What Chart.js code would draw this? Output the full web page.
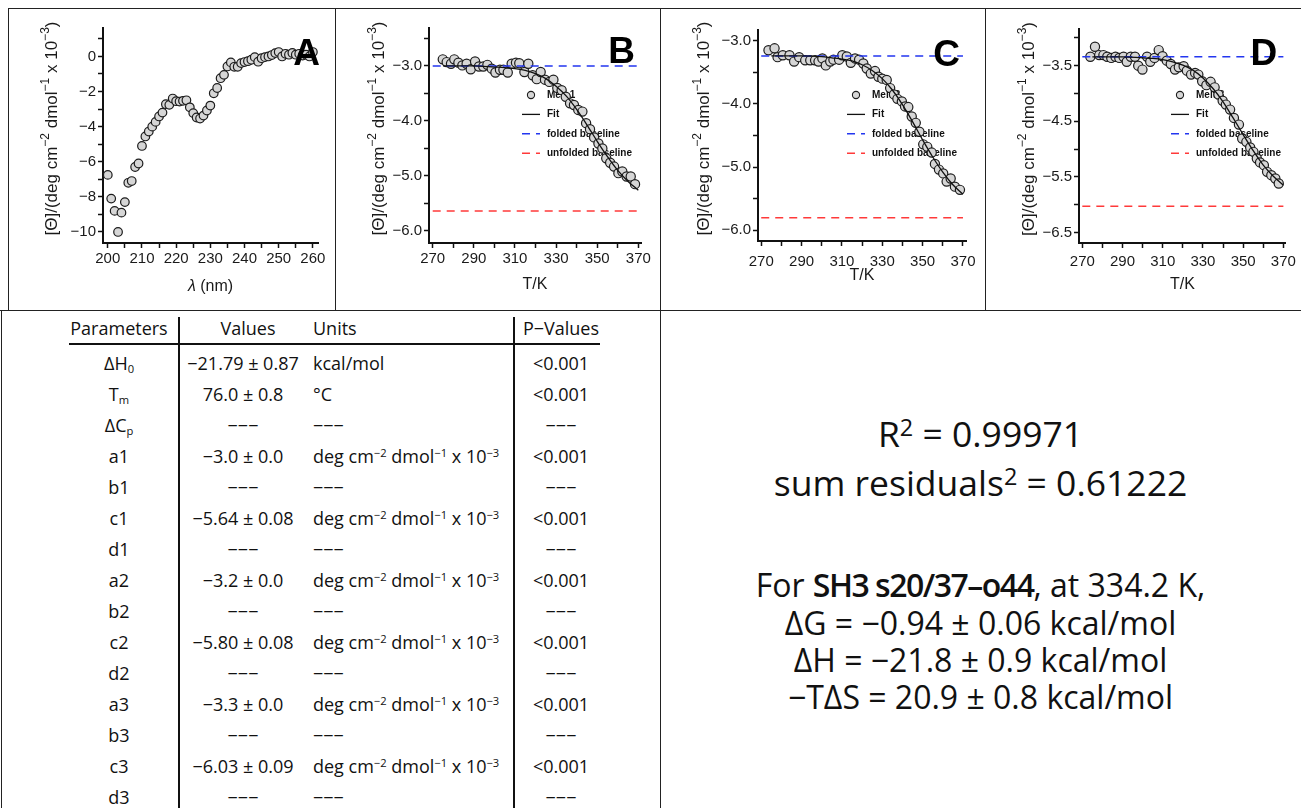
<!DOCTYPE html>
<html>
<head>
<meta charset="utf-8">
<script src="https://cdn.jsdelivr.net/npm/chart.js@4.4.1/dist/chart.umd.min.js"></script>
<style>
  body { margin: 0; background: #fff; width: 1301px; height: 808px; overflow: hidden; position: relative; font-family: "Open Sans", sans-serif; color: #111; }
  canvas { position: absolute; top: 9px; }
  .ln { position: absolute; background: #222; z-index: 5; }
  .cell { position: absolute; height: 26px; line-height: 26px; font-size: 18px; white-space: nowrap; color: #111; }
  .c { text-align: center; }
  sup, sub { font-size: 0.62em; line-height: 0; position: relative; vertical-align: baseline; color: inherit; }
  sup { top: -0.5em; }
  sub { top: 0.3em; }
  .txt { position: absolute; left: 660px; width: 641px; text-align: center; font-size: 32px; height: 46px; line-height: 46px; white-space: nowrap; }
  .txt.big { font-size: 35.5px; }
  .txt sup { font-size: 0.66em; top: -0.45em; }
  .txt b { font-weight: 600; letter-spacing: -1.5px; }
</style>
</head>
<body>
<canvas id="chartA" width="326" height="302" style="left:9px"></canvas>
<canvas id="chartB" width="324" height="302" style="left:336px"></canvas>
<canvas id="chartC" width="324" height="302" style="left:661px"></canvas>
<canvas id="chartD" width="315" height="302" style="left:986px"></canvas>

<div class="ln" style="left:8px;top:8px;width:1293px;height:1px"></div>
<div class="ln" style="left:8px;top:8px;width:1px;height:303px"></div>
<div class="ln" style="left:335px;top:8px;width:1px;height:303px"></div>
<div class="ln" style="left:660px;top:8px;width:1px;height:800px"></div>
<div class="ln" style="left:985px;top:8px;width:1px;height:303px"></div>
<div class="ln" style="left:0px;top:310px;width:1301px;height:1px"></div>
<div class="ln" style="left:1px;top:310px;width:1px;height:498px"></div>

<div id="table"></div>

<div class="txt big" style="top:410px">R<sup>2</sup> = 0.99971</div>
<div class="txt big" style="top:459px">sum residuals<sup>2</sup> = 0.61222</div>
<div class="txt" style="top:562px">For <b>SH3 s20/37–o44</b>, at 334.2 K,</div>
<div class="txt" style="top:600px">ΔG = −0.94 ± 0.06 kcal/mol</div>
<div class="txt" style="top:637px">ΔH = −21.8 ± 0.9 kcal/mol</div>
<div class="txt" style="top:674px">−TΔS = 20.9 ± 0.8 kcal/mol</div>

<script>
// panel A: CD spectrum
const lambdaA = [200,201,202,203,204,205,206,207,208,209,210,211,212,213,214,215,216,217,218,219,220,
  221,222,223,224,225,226,227,228,229,230,231,232,233,234,235,236,237,238,239,240,
  241,242,243,244,245,246,247,248,249,250,251,252,253,254,255,256,257,258,259,260];
const thetaA = [-6.75,-8.1,-8.8,-10.0,-8.9,-8.3,-7.2,-7.1,-6.3,-6.1,-5.1,-4.56,-4.28,-4.0,-3.73,-3.42,-3.2,-2.72,-2.76,-2.4,-2.55,
  -2.57,-2.53,-2.5,-2.9,-3.23,-3.48,-3.54,-3.37,-3.08,-2.8,-2.1,-1.8,-1.24,-1.05,-0.57,-0.34,-0.59,-0.59,-0.38,-0.32,
  -0.27,-0.19,-0.04,-0.3,-0.1,-0.04,0.0,0.08,0.19,0.25,0.0,0.15,0.1,0.2,0.1,0.15,0.05,0.1,0.0,0.25];

// melts
const tempB = [274.9,276.8,278.9,280.5,282.5,284.4,286.5,288.5,290.6,292.5,294.6,296.6,298.7,300.5,302.7,304.4,
  306.5,308.4,310.5,312.1,314.6,316.5,318.6,320.6,322.5,324.6,326.7,328.7,330.6,332.7,334.7,336.8,
  338.7,340.8,342.8,344.6,346.5,348.5,350.6,352.5,354.4,356.3,358.2,360.3,362.2,364.3,366.3,368.4];
const meltB = [-2.88,-2.93,-2.96,-2.88,-2.94,-2.99,-2.96,-3.06,-2.92,-3.01,-3.01,-2.98,-3.05,-3.12,-3.07,-3.07,
  -3.12,-2.96,-2.94,-2.95,-3.11,-2.96,-3.17,-3.24,-3.11,-3.25,-3.29,-3.25,-3.4,-3.44,-3.56,-3.68,
  -3.71,-3.8,-3.83,-4.04,-4.15,-4.3,-4.41,-4.5,-4.68,-4.76,-4.83,-4.95,-4.92,-5.01,-5.01,-5.15];

const tempC = [273.6,276.6,278.1,280.7,284,286.3,288.8,291.8,294.3,296.7,298.4,300.3,302,304.2,305.8,308.6,
  310.2,312.4,314.4,316.5,318.5,320.6,322.3,324.3,326.4,328.1,330,332.2,333.9,335.8,337.5,339.7,
  341.3,342.9,344.6,346.6,348.4,350.3,352.3,354.5,356.1,358.1,360.2,361.9,363.9,366,368.5];
const meltC = [-3.15,-3.12,-3.26,-3.23,-3.23,-3.33,-3.26,-3.31,-3.31,-3.31,-3.33,-3.28,-3.39,-3.33,-3.3,-3.3,
  -3.23,-3.25,-3.35,-3.28,-3.3,-3.36,-3.44,-3.52,-3.48,-3.57,-3.6,-3.62,-3.75,-3.85,-3.92,-3.96,
  -4.04,-4.05,-4.2,-4.3,-4.44,-4.64,-4.68,-4.77,-4.95,-5.04,-5.1,-5.23,-5.18,-5.31,-5.36];

const tempD = [274,276.3,278.4,280.5,282.4,284.4,286.5,288.4,290.5,292.1,294.1,296.2,297.8,299.9,302.2,303.8,
  305.9,308,309.9,312,314,316.1,318,320.4,322,324.1,326.1,327.7,329.6,331.7,333.8,335.8,
  337.7,339.8,341.4,343.5,345.4,347.9,349.5,351.6,353.5,355.1,356.8,358.4,360.3,361.9,364,366,367.7];
const meltD = [-3.34,-3.16,-3.31,-3.31,-3.34,-3.36,-3.34,-3.36,-3.34,-3.43,-3.34,-3.34,-3.5,-3.57,-3.34,-3.43,
  -3.36,-3.22,-3.33,-3.41,-3.47,-3.57,-3.53,-3.51,-3.59,-3.66,-3.63,-3.66,-3.78,-3.85,-3.79,-3.89,
  -4.02,-4.13,-4.2,-4.29,-4.44,-4.56,-4.81,-4.87,-4.97,-5.05,-5.17,-5.24,-5.29,-5.41,-5.47,-5.53,-5.62];

// fit curves
const fitTemp = [275,290,300,305,310,315,320,325,330,335,340,345,350,355,360,365,370];
const fitB = [-3.00,-3.00,-3.02,-3.03,-3.05,-3.08,-3.14,-3.23,-3.37,-3.55,-3.79,-4.07,-4.37,-4.65,-4.90,-5.10,-5.26];
const fitC = [-3.24,-3.24,-3.25,-3.27,-3.29,-3.32,-3.38,-3.47,-3.60,-3.78,-4.01,-4.28,-4.57,-4.84,-5.08,-5.28,-5.43];
const fitD = [-3.34,-3.34,-3.36,-3.37,-3.39,-3.43,-3.49,-3.58,-3.72,-3.91,-4.15,-4.44,-4.74,-5.03,-5.29,-5.49,-5.65];

const baseRange = [270, 370];
const foldedBase = [-3.0, -3.24, -3.34];
const unfoldedBase = [-5.64, -5.80, -6.03];

// ticks (all marks) and the ones that carry a label
const xTicksA = [200,205,210,215,220,225,230,235,240,245,250,255,260];
const xLabelsA = [200,210,220,230,240,250,260];
const yTicksA = [1,0,-1,-2,-3,-4,-5,-6,-7,-8,-9,-10];
const yLabelsA = [0,-2,-4,-6,-8,-10];
const xTicksT = [270,280,290,300,310,320,330,340,350,360,370];
const xLabelsT = [270,290,310,330,350,370];
const yTicksB = [-2.5,-3,-3.5,-4,-4.5,-5,-5.5,-6];
const yTicksC = [-3,-3.5,-4,-4.5,-5,-5.5,-6];
const yLabelsBC = [-3,-4,-5,-6];
const yTicksD = [-3,-3.5,-4,-4.5,-5,-5.5,-6,-6.5];
const yLabelsD = [-3.5,-4.5,-5.5,-6.5];

// table
const paramNames = ['ΔH<sub>0</sub>','T<sub>m</sub>','ΔC<sub>p</sub>','a1','b1','c1','d1','a2','b2','c2','d2','a3','b3','c3','d3'];
const paramValues = ['−21.79 ± 0.87','76.0 ± 0.8','−−−','−3.0 ± 0.0','−−−','−5.64 ± 0.08','−−−','−3.2 ± 0.0','−−−',
  '−5.80 ± 0.08','−−−','−3.3 ± 0.0','−−−','−6.03 ± 0.09','−−−'];
const U = 'deg cm<sup>−2</sup> dmol<sup>−1</sup> x 10<sup>−3</sup>';
const paramUnits = ['kcal/mol','°C','−−−',U,'−−−',U,'−−−',U,'−−−',U,'−−−',U,'−−−',U,'−−−'];
const pValues = ['<0.001','<0.001','−−−','<0.001','−−−','<0.001','−−−','<0.001','−−−','<0.001','−−−','<0.001','−−−','<0.001','−−−'];

const tbl = document.getElementById('table');
function cell(html, left, width, cy, cls) {
  const d = document.createElement('div');
  d.className = 'cell ' + (cls || '');
  d.style.left = left + 'px';
  if (width) d.style.width = width + 'px';
  d.style.top = (cy - 13) + 'px';
  d.innerHTML = html;
  tbl.appendChild(d);
}
cell('Parameters', 59, 120, 328, 'c');
cell('Values', 188, 120, 328, 'c');
cell('Units', 313, 0, 328);
cell('P−Values', 516, 90, 328, 'c');
paramNames.forEach((p, i) => {
  const cy = 363 + i * 31;
  cell(p, 59, 120, cy, 'c');
  cell(paramValues[i], 183, 120, cy, 'c');
  cell(paramUnits[i], 313, 0, cy);
  cell(pValues[i].replace('<', '&lt;'), 516, 90, cy, 'c');
});
tbl.insertAdjacentHTML('beforeend',
  '<div class="ln" style="left:69px;top:343px;width:531px;height:1.5px;background:#111"></div>' +
  '<div class="ln" style="left:178px;top:317px;width:1.5px;height:491px;background:#111"></div>' +
  '<div class="ln" style="left:513px;top:317px;width:1.5px;height:491px;background:#111"></div>');

// charts
const axisFamily = "'Liberation Sans', Arial, sans-serif";
const tickFont = { family: axisFamily, size: 15 };
const titleFont = { family: axisFamily, size: 16 };
const pts = (xs, ys) => xs.map((x, i) => ({ x: x, y: ys[i] }));
const fmt = (v, dec) => v.toFixed(dec).replace('-', '−');

// y title with real superscripts: [Θ]/(deg cm-2 dmol-1 x 10-3)
const yTitleParts = [['[Θ]/(deg cm', 0], ['−2', 1], [' dmol', 0], ['−1', 1], [' x 10', 0], ['−3', 1], [')', 0]];

function drawParts(ctx, parts, cx, cy, big, small, rotate) {
  ctx.save();
  ctx.translate(cx, cy);
  if (rotate) ctx.rotate(-Math.PI / 2);
  ctx.fillStyle = '#1a1a1a';
  ctx.textBaseline = 'alphabetic';
  let w = 0;
  parts.forEach(p => { ctx.font = p[2] || ((p[1] ? small : big) + 'px ' + axisFamily); w += ctx.measureText(p[0]).width; });
  let x = -w / 2;
  parts.forEach(p => {
    ctx.font = p[2] || ((p[1] ? small : big) + 'px ' + axisFamily);
    ctx.fillText(p[0], x, p[1] ? -big * 0.05 - small * 0.55 + big * 0.36 : big * 0.36);
    x += ctx.measureText(p[0]).width;
  });
  ctx.restore();
}

const panelDecor = {
  id: 'panelDecor',
  beforeDatasetsDraw(chart, args, o) {
    if (!o.legend) return;
    const { ctx, chartArea: a } = chart;
    ctx.save();
    ctx.font = 'bold 10px ' + axisFamily;
    ctx.textBaseline = 'middle';
    chart.data.datasets.forEach((ds, i) => {
      const y = a.top + o.legendTop + i * 19.4;
      const x = a.left + o.legendLeft;
      if (ds.showLine === false) {
        ctx.beginPath();
        ctx.arc(x + 9, y, 3.6, 0, Math.PI * 2);
        ctx.fillStyle = ds.pointBackgroundColor;
        ctx.fill();
        ctx.lineWidth = 1.1;
        ctx.strokeStyle = ds.pointBorderColor;
        ctx.stroke();
      } else {
        ctx.beginPath();
        ctx.setLineDash(ds.borderDash || []);
        ctx.moveTo(x, y);
        ctx.lineTo(x + 18, y);
        ctx.lineWidth = ds.borderWidth;
        ctx.strokeStyle = ds.borderColor;
        ctx.stroke();
        ctx.setLineDash([]);
      }
      ctx.fillStyle = '#111';
      ctx.fillText(ds.label, x + 25, y);
    });
    ctx.restore();
  },
  afterDatasetsDraw(chart, args, o) {
    const { ctx, chartArea: a } = chart;
    ctx.save();
    ctx.font = 'bold 37px ' + axisFamily;
    ctx.fillStyle = '#000';
    ctx.textAlign = 'right';
    ctx.textBaseline = 'alphabetic';
    ctx.fillText(o.letter, a.right + o.letterDx, a.top + o.letterDy);
    ctx.restore();
  },
  afterDraw(chart, args, o) {
    const { ctx, chartArea: a } = chart;
    drawParts(ctx, yTitleParts, 41.5, (a.top + a.bottom) / 2 - 7, 17, 12, true);
    if (o.xTitleParts) drawParts(ctx, o.xTitleParts, (a.left + a.right) / 2, 276, 16, 16, false);
  }
};

function meltSets(label, temps, melt, fit, k) {
  return [
    { label: label, data: pts(temps, melt), showLine: false, pointRadius: 4.6,
      pointBackgroundColor: '#d6d6d6', pointBorderColor: '#1c1c1c', pointBorderWidth: 1.2, order: 3 },
    { label: 'Fit', data: pts(fitTemp, fit), borderColor: '#111', borderWidth: 1.3, pointRadius: 0,
      cubicInterpolationMode: 'monotone', order: 0 },
    { label: 'folded baseline', data: pts(baseRange, [foldedBase[k], foldedBase[k]]), borderColor: '#2336f0',
      borderWidth: 1.5, borderDash: [8, 6], pointRadius: 0, order: 1 },
    { label: 'unfolded baseline', data: pts(baseRange, [unfoldedBase[k], unfoldedBase[k]]), borderColor: '#ff3a3a',
      borderWidth: 1.5, borderDash: [8, 6], pointRadius: 0, order: 2 }
  ];
}

function axis(c, which) {
  const isX = which === 'x';
  const t = isX ? c.x : c.y;
  return {
    type: 'linear',
    min: t.min, max: t.max,
    afterFit: s => { if (isX) s.height = c.xh; else s.width = c.yw; },
    afterBuildTicks: s => { s.ticks = t.ticks.map(v => ({ value: v })); },
    ticks: {
      font: tickFont, color: '#1a1a1a', padding: t.tickPad, maxRotation: 0, autoSkip: false,
      callback: v => t.labels.includes(v) ? fmt(v, t.dec) : ''
    },
    grid: { drawOnChartArea: false, drawTicks: true, tickLength: 5, color: '#111', tickWidth: 1.5 },
    border: { display: true, color: '#111', width: 2 },
    title: { display: isX && !!t.title, text: t.title || '', font: titleFont, color: '#1a1a1a',
      padding: { top: 0, bottom: t.titlePad || 0 } }
  };
}

function makeChart(id, c) {
  return new Chart(document.getElementById(id), {
    type: 'line',
    data: { datasets: c.datasets },
    options: {
      responsive: false, animation: false, devicePixelRatio: 1,
      layout: { padding: { top: c.padTop, right: c.padRight, left: 0, bottom: 0 } },
      plugins: { legend: { display: false }, tooltip: { enabled: false }, panelDecor: c.decor },
      scales: { x: axis(c, 'x'), y: axis(c, 'y') }
    },
    plugins: [panelDecor]
  });
}

makeChart('chartA', {
  datasets: [{ label: 'CD', data: pts(lambdaA, thetaA), showLine: false, pointRadius: 4.3,
    pointBackgroundColor: '#d6d6d6', pointBorderColor: '#1c1c1c', pointBorderWidth: 1.2 }],
  padTop: 19, padRight: 17, yw: 94, xh: 68,
  x: { min: 198.6, max: 261.5, ticks: xTicksA, labels: xLabelsA, dec: 0, tickPad: 2 },
  y: { min: -10.63, max: 1.62, ticks: yTicksA, labels: yLabelsA, dec: 0, tickPad: 2 },
  decor: { letter: 'A', letterDx: 2, letterDy: 37, legend: false,
    xTitleParts: [['λ', 0, 'italic 16px ' + axisFamily], [' (nm)', 0]] }
});

makeChart('chartB', {
  datasets: meltSets('Melt 1', tempB, meltB, fitB, 0),
  padTop: 19, padRight: 19, yw: 93, xh: 68,
  x: { min: 268.2, max: 371.3, ticks: xTicksT, labels: xLabelsT, dec: 0, tickPad: 2, title: 'T/K', titlePad: 17 },
  y: { min: -6.22, max: -2.31, ticks: yTicksB, labels: yLabelsBC, dec: 1, tickPad: 2 },
  decor: { letter: 'B', letterDx: -6, letterDy: 35, legend: true, legendLeft: 93, legendTop: 67 }
});

makeChart('chartC', {
  datasets: meltSets('Melt 2', tempC, meltC, fitC, 1),
  padTop: 21, padRight: 19, yw: 97, xh: 70,
  x: { min: 268.4, max: 371.5, ticks: xTicksT, labels: xLabelsT, dec: 0, tickPad: 7, title: 'T/K', titlePad: 25.5 },
  y: { min: -6.17, max: -2.83, ticks: yTicksC, labels: yLabelsBC, dec: 1, tickPad: 2 },
  decor: { letter: 'C', letterDx: -6, letterDy: 35.5, legend: true, legendLeft: 89, legendTop: 65 }
});

makeChart('chartD', {
  datasets: meltSets('Melt 3', tempD, meltD, fitD, 2),
  padTop: 20, padRight: 9, yw: 93, xh: 68,
  x: { min: 268.35, max: 371.3, ticks: xTicksT, labels: xLabelsT, dec: 0, tickPad: 5, title: 'T/K', titlePad: 17 },
  y: { min: -6.69, max: -2.84, ticks: yTicksD, labels: yLabelsD, dec: 1, tickPad: 2 },
  decor: { letter: 'D', letterDx: -8.7, letterDy: 35.7, legend: true, legendLeft: 92, legendTop: 66 }
});
</script>
</body>
</html>
